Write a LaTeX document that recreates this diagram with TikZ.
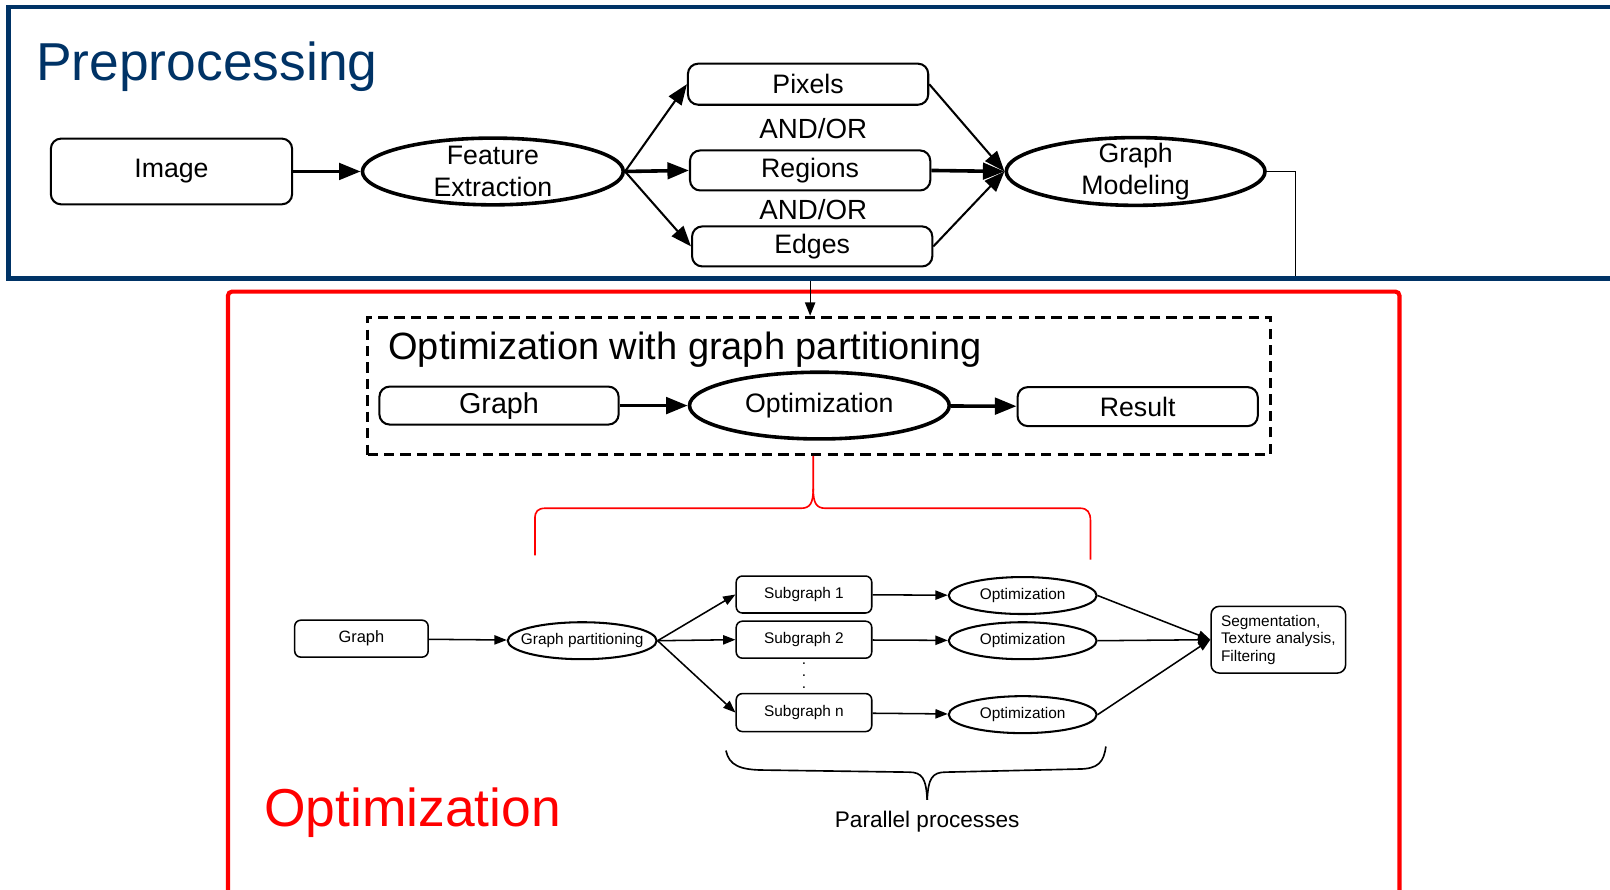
\documentclass[tikz,border=0pt]{standalone}
\usepackage{fontspec}
\setmainfont{Liberation Sans}
\usetikzlibrary{arrows.meta,shapes.geometric}
\definecolor{prepblue}{RGB}{0,51,102}
\definecolor{optred}{RGB}{255,0,0}
\tikzset{
  bigbox/.style={draw, line width=2, rounded corners=10, minimum width=234, minimum height=39, inner sep=0, font=\fontsize{26}{30}\selectfont},
  bigoval/.style={draw, ellipse, line width=3.5, minimum width=254, minimum height=65, inner sep=0, font=\fontsize{26}{31}\selectfont, align=center},
  ovaltext/.style={inner sep=0, font=\fontsize{26}{31}\selectfont, align=center},
  smallbox/.style={draw, line width=1.5, rounded corners=6, minimum width=132, minimum height=36, inner sep=0, font=\fontsize{15}{18}\selectfont},
  smalloval/.style={draw, ellipse, line width=2, minimum width=144, minimum height=36, inner sep=0, font=\fontsize{15}{18}\selectfont},
  heavyarrow/.style={line width=3.5, -{Triangle[length=21,width=16]}},
  lightarrow/.style={line width=2, -{Triangle[length=20,width=15]}},
  feedarrow/.style={line width=1.2, -{Triangle[length=13,width=10]}},
  tinyarrow/.style={line width=1.5, -{Triangle[length=12,width=9]}},
  label/.style={inner sep=0, font=\fontsize{27}{30}\selectfont},
}
\begin{document}
\begin{tikzpicture}[x=1pt, y=-1pt]
\useasboundingbox (0,0) rectangle (1568,866);
\fill[white] (0,0) rectangle (1568,866);

% ---- Optimization frame (drawn first, the feed line crosses it)
\draw[optred, line width=4, rounded corners=4] (222,880) -- (222,284) -- (1363,284) -- (1363,880);
\node[anchor=base west, inner sep=0, text=optred, font=\fontsize{52}{60}\selectfont] (opttitle) at (257,805) {Optimization};

% ---- Preprocessing nodes
\node[bigbox, minimum width=235, minimum height=64] (img) at (167,167) {Image};
\node[bigoval] (fe) at (480,167) {};
\node[ovaltext] (fetext) at (fe.center) {Feature\\Extraction};
\node[bigbox, minimum height=40] (pix) at (787,82) {Pixels};
\node[label] (andor1) at (792,125) {AND/OR};
\node[bigbox] (reg) at (789,166) {Regions};
\node[label] (andor2) at (792,204) {AND/OR};
\node[bigbox] (edg) at (791,240) {Edges};
\node[bigoval, minimum width=252, minimum height=66] (gm) at (1106,167) {};
\node[ovaltext] (gmtext) at (gm.center) {Graph\\Modeling};

\draw[heavyarrow] (img) -- (fe);
\draw[lightarrow] (fe.east) -- (pix.west);
\draw[heavyarrow] (fe.east) -- (reg.west);
\draw[lightarrow] (fe.east) -- (edg.west);
\draw[lightarrow] (pix.east) -- (gm.west);
\draw[heavyarrow] (reg.east) -- (gm.west);
\draw[lightarrow] (edg.east) -- (gm.west);

% ---- Graph partitioning block
\node[draw, line width=3, dash pattern=on 10pt off 6pt, minimum width=879, minimum height=134, inner sep=0] (dbox) at (797.5,376) {};
\node[anchor=base west, inner sep=0, font=\fontsize{37}{40}\selectfont] (dtitle) at (378,350) {Optimization with graph partitioning};
\node[bigbox, minimum width=233, minimum height=37, font=\fontsize{28}{30}\selectfont] (gr) at (486,395) {Graph};
\node[bigoval, minimum width=253] (opt) at (798,395) {Optimization};
\node[bigbox, minimum height=38] (res) at (1108,396) {Result};
\draw[heavyarrow] (gr) -- (opt);
\draw[heavyarrow] (opt) -- (res);

% ---- feed line from graph modeling down into the block
\coordinate (turn) at (1262,271);
\coordinate (drop) at (789,271);
\draw[line width=1.2] (gm.east) -| (turn) -- (drop);
\draw[feedarrow] (drop) -- (drop |- dbox.north);

% ---- Preprocessing frame
\draw[prepblue, line width=4.5] (1600,7) -- (8,7) -- (8,271) -- (1600,271);
\node[anchor=base west, inner sep=0, text=prepblue, font=\fontsize{52}{60}\selectfont] (pretitle) at (35,78) {Preprocessing};

% ---- red brace opening the detail view
\coordinate (rbl) at (521,541);
\coordinate (rbtip) at (792,444);
\coordinate (rbr) at (1062,545);
\draw[optred, line width=1.6] (rbl) -- (521,505) .. controls (521,498) and (524,495) .. (531,495)
  -- (780,495) .. controls (789,495) and (792,490) .. (792,476) -- (rbtip);
\draw[optred, line width=1.6] (792,476) .. controls (792,490) and (795,495) .. (804,495)
  -- (1052,495) .. controls (1059,495) and (1062,499) .. (1062,507) -- (rbr);

% ---- detail: parallel optimization of subgraphs
\node[smallbox, minimum width=130, font=\fontsize{16}{18}\selectfont] (g2) at (352,622) {Graph};
\node[smalloval, minimum width=145] (gp) at (567,624) {\makebox[0pt]{Graph partitioning}};
\node[smallbox] (s1) at (783,579) {Subgraph 1};
\node[smallbox] (s2) at (783,623) {Subgraph 2};
\node[smallbox, minimum height=37] (sn) at (783,694) {Subgraph n};
\node[smalloval] (o1) at (996,580) {\makebox[0pt]{Optimization}};
\node[smalloval] (o2) at (996,624) {\makebox[0pt]{Optimization}};
\node[smalloval] (on) at (996,696) {\makebox[0pt]{Optimization}};
\node[smallbox, minimum width=131, minimum height=65, rounded corners=8, align=left, font=\fontsize{15}{17}\selectfont] (seg) at (1245,623) {Segmentation,\\Texture analysis,\\Filtering};
\node[inner sep=0, align=center, font=\fontsize{15}{12}\selectfont] (dots) at (783,658) {.\\.\\.};

\draw[tinyarrow] (g2) -- (gp);
\draw[tinyarrow] (gp.east) -- (s1.west);
\draw[tinyarrow] (gp.east) -- (s2.west);
\draw[tinyarrow] (gp.east) -- (sn.west);
\draw[tinyarrow] (s1) -- (o1);
\draw[tinyarrow] (s2) -- (o2);
\draw[tinyarrow] (sn) -- (on);
\draw[tinyarrow] (o1.east) -- (seg.west);
\draw[tinyarrow] (o2.east) -- (seg.west);
\draw[tinyarrow] (on.east) -- (seg.west);

% ---- brace grouping the parallel processes
\coordinate (bbl) at (707,731);
\coordinate (bbtip) at (903,779);
\coordinate (bbr) at (1077,727);
\draw[line width=1.6] (bbl) .. controls (710,745) and (720,750) .. (745,750)
  -- (885,752) .. controls (898,752) and (902,758) .. (bbtip);
\draw[line width=1.6] (bbtip) .. controls (904,758) and (908,752) .. (921,752)
  -- (1050,749) .. controls (1070,749) and (1075,742) .. (bbr);
\node[inner sep=0, font=\fontsize{22}{24}\selectfont] (pp) at (903,800) {Parallel processes};
\end{tikzpicture}
\end{document}
